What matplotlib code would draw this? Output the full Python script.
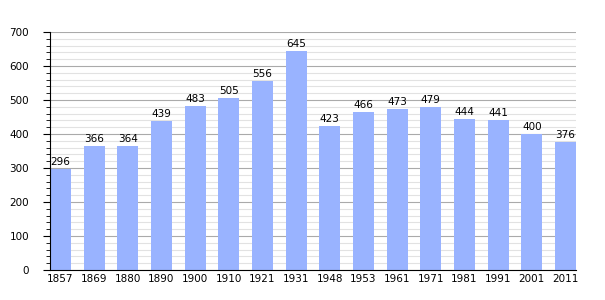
import numpy as np
import matplotlib.pyplot as plt
from matplotlib.ticker import MultipleLocator

years = ["1857", "1869", "1880", "1890", "1900", "1910", "1921", "1931",
         "1948", "1953", "1961", "1971", "1981", "1991", "2001", "2011"]
population = [296, 366, 364, 439, 483, 505, 556, 645,
              423, 466, 473, 479, 444, 441, 400, 376]

fig = plt.figure(figsize=(6.05, 3.0), dpi=100)
ax = fig.add_axes([0.0826, 0.1, 0.8694, 0.7933])

x = np.arange(len(years))
ax.bar(x, population, width=0.62, color="#99b3ff", zorder=3)

for xi, v in zip(x, population):
    ax.text(xi, v + 6, str(v), ha="center", va="bottom", fontsize=7.5, zorder=4)

ax.set_xlim(-0.31, len(years) - 1 + 0.31)
ax.set_ylim(0, 700)
ax.set_xticks(x)
ax.set_xticklabels(years, fontsize=7.5)
ax.tick_params(axis="x", length=0, pad=3)

ax.yaxis.set_major_locator(MultipleLocator(100))
ax.yaxis.set_minor_locator(MultipleLocator(20))
ax.tick_params(axis="y", which="major", length=5, labelsize=7.5, pad=10)
ax.tick_params(axis="y", which="minor", length=3)
ax.grid(axis="y", which="major", color="#aaaaaa", lw=0.8, zorder=0)
ax.grid(axis="y", which="minor", color="#e2e2e2", lw=0.8, zorder=0)

for s in ["top", "right"]:
    ax.spines[s].set_visible(False)
ax.spines["left"].set_zorder(5)
ax.spines["bottom"].set_zorder(5)

fig.savefig("out.png", dpi=100)
